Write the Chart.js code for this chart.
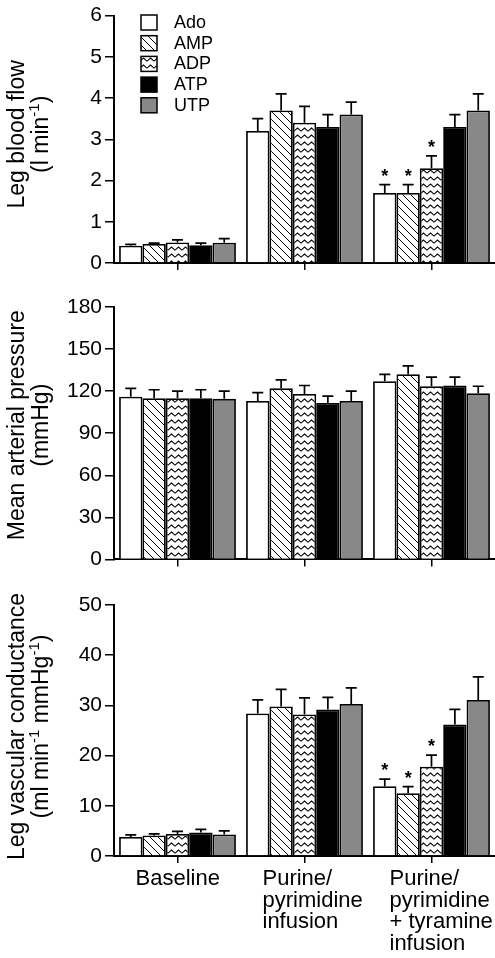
<!DOCTYPE html>
<html>
<head>
<meta charset="utf-8">
<script src="https://cdn.jsdelivr.net/npm/chart.js@4.4.1/dist/chart.umd.min.js"></script>
<style>
  html, body { margin: 0; padding: 0; background: #fff; }
  #wrap { position: relative; width: 495px; height: 958px; overflow: hidden; }
  .panel { position: absolute; left: 0; width: 495px; }
  canvas { display: block; }
</style>
</head>
<body>
<div id="wrap">
  <div class="panel" style="top:0"><canvas id="flowChart" width="495" height="280"></canvas></div>
  <div class="panel" style="top:285px"><canvas id="mapChart" width="495" height="290"></canvas></div>
  <div class="panel" style="top:575px"><canvas id="lvcChart" width="495" height="383"></canvas></div>
</div>
<script>
// --- data ---
const groups = ['Baseline', ['Purine/', 'pyrimidine', 'infusion'], ['Purine/', 'pyrimidine', '+ tyramine', 'infusion']];
const drugs = ['Ado', 'AMP', 'ADP', 'ATP', 'UTP'];

// leg blood flow (l/min), one row per drug, SEM below
const flowMean = [
    [0.42, 3.2, 1.7],
    [0.46, 3.7, 1.7],
    [0.50, 3.4, 2.3],
    [0.43, 3.3, 3.3],
    [0.49, 3.6, 3.7]
];
const flowSem = [
    [0.03, 0.3, 0.2],
    [0.02, 0.4, 0.2],
    [0.06, 0.4, 0.3],
    [0.05, 0.3, 0.3],
    [0.10, 0.3, 0.4]
];
const flowSig = [
    [0, 0, 1],
    [0, 0, 1],
    [0, 0, 1],
    [0, 0, 0],
    [0, 0, 0]
];

// mean arterial pressure (mmHg)
const mapMean = [
    [116, 113, 127],
    [115, 122, 132],
    [115, 118, 123.5],
    [115, 111.5, 124],
    [114.5, 113, 118.5]
];
const mapSem = [
    [6, 6, 5],
    [6, 6, 6],
    [5, 6, 6.5],
    [6, 5, 6],
    [5.5, 7, 5]
];

// leg vascular conductance (ml/min/mmHg)
const lvcMean = [
    [3.8, 28.4, 13.9],
    [4.1, 29.8, 12.5],
    [4.4, 28.2, 17.8],
    [4.7, 29.2, 26.2],
    [4.3, 30.3, 31.1]
];
const lvcSem = [
    [0.4, 2.7, 1.4],
    [0.3, 3.4, 1.3],
    [0.5, 3.3, 2.3],
    [0.6, 2.4, 3.0],
    [0.7, 3.2, 4.6]
];
const lvcSig = flowSig;

const flowTicks = [0, 6, 1];
const mapTicks = [0, 180, 30];
const lvcTicks = [0, 50, 10];

// --- fills ---
function hatchPattern() {
    const c = document.createElement('canvas');
    c.width = 8; c.height = 8;
    const g = c.getContext('2d');
    g.fillStyle = '#fff';
    g.fillRect(0, 0, 8, 8);
    g.strokeStyle = '#000';
    g.lineWidth = 1;
    g.beginPath();
    g.moveTo(-2, -2); g.lineTo(10, 10);
    g.moveTo(-2, 6); g.lineTo(2, 10);
    g.moveTo(6, -2); g.lineTo(10, 2);
    g.stroke();
    return g.createPattern(c, 'repeat');
}

function zigzagPattern() {
    const c = document.createElement('canvas');
    c.width = 7; c.height = 7;
    const g = c.getContext('2d');
    g.fillStyle = '#fff';
    g.fillRect(0, 0, 7, 7);
    g.strokeStyle = '#000';
    g.lineWidth = 1.1;
    g.beginPath();
    g.moveTo(-1, 6); g.lineTo(3.5, 2); g.lineTo(8, 6);
    g.stroke();
    return g.createPattern(c, 'repeat');
}

const fills = ['#ffffff', hatchPattern(), zigzagPattern(), '#000000', '#888888'];

const FONT = "'Liberation Sans', Arial, sans-serif";
Chart.defaults.font.family = FONT;
Chart.defaults.color = '#000';

// --- plugins ---
function drawRich(ctx, segs, y) {
    let total = 0;
    segs.forEach(s => {
        ctx.font = (s[1] ? '15px ' : '23px ') + FONT;
        total += ctx.measureText(s[0]).width;
    });
    let x = -total / 2;
    segs.forEach(s => {
        ctx.font = (s[1] ? '15px ' : '23px ') + FONT;
        ctx.fillText(s[0], x, s[1] ? y - 9 : y);
        x += ctx.measureText(s[0]).width;
    });
}

const yTitlePlugin = {
    id: 'yTitle',
    afterDraw(chart, args, opts) {
        const ctx = chart.ctx;
        const area = chart.chartArea;
        ctx.save();
        ctx.translate(0, (area.top + area.bottom) / 2 + (opts.dy || 0));
        ctx.rotate(-Math.PI / 2);
        ctx.fillStyle = '#000';
        ctx.textAlign = 'left';
        ctx.textBaseline = 'alphabetic';
        opts.lines.forEach((segs, i) => drawRich(ctx, segs, 23.5 + i * 24.5));
        ctx.restore();
    }
};

// category names under the bottom panel, left-aligned blocks at each tick
const xLabelPlugin = {
    id: 'xLabels',
    afterDraw(chart, args, opts) {
        if (!opts.show) return;
        const ctx = chart.ctx;
        const xs = chart.scales.x;
        ctx.save();
        ctx.fillStyle = '#000';
        ctx.font = '22px ' + FONT;
        ctx.textAlign = 'left';
        ctx.textBaseline = 'middle';
        chart.data.labels.forEach((lab, i) => {
            const lines = Array.isArray(lab) ? lab : [lab];
            const x = xs.getPixelForTick(i) + opts.dx;
            lines.forEach((t, k) => ctx.fillText(t, x, xs.top + opts.dy + k * opts.lineH));
        });
        ctx.restore();
    }
};

const errorBarPlugin = {
    id: 'errorBars',
    afterDatasetsDraw(chart) {
        const ctx = chart.ctx;
        const yScale = chart.scales.y;
        ctx.save();
        ctx.strokeStyle = '#000';
        ctx.lineWidth = 1.7;
        chart.data.datasets.forEach((ds, i) => {
            chart.getDatasetMeta(i).data.forEach((bar, j) => {
                const top = yScale.getPixelForValue(ds.data[j] + ds.sem[j]);
                ctx.beginPath();
                ctx.moveTo(bar.x, bar.y);
                ctx.lineTo(bar.x, top);
                ctx.moveTo(bar.x - 5.5, top);
                ctx.lineTo(bar.x + 5.5, top);
                ctx.stroke();
                if (ds.sig && ds.sig[j]) {
                    ctx.fillStyle = '#000';
                    ctx.font = 'bold 18px ' + FONT;
                    ctx.textAlign = 'center';
                    ctx.textBaseline = 'alphabetic';
                    ctx.fillText('*', bar.x, top - 3);
                }
            });
        });
        ctx.restore();
    }
};

const boxLegendPlugin = {
    id: 'boxLegend',
    afterDraw(chart, args, opts) {
        if (!opts.show) return;
        const ctx = chart.ctx;
        ctx.save();
        chart.data.datasets.forEach((ds, i) => {
            const y = opts.y + i * opts.gap;
            ctx.fillStyle = ds.backgroundColor;
            ctx.fillRect(opts.x, y, 16, 15);
            ctx.strokeStyle = '#000';
            ctx.lineWidth = 1.5;
            ctx.strokeRect(opts.x, y, 16, 15);
            ctx.fillStyle = '#000';
            ctx.font = '18px ' + FONT;
            ctx.textAlign = 'left';
            ctx.textBaseline = 'middle';
            ctx.fillText(ds.label, opts.x + 33, y + 8);
        });
        ctx.restore();
    }
};

// --- charts ---
function makePanel(id, means, sems, sig, yTicks, opts) {
    const datasets = drugs.map((name, i) => ({
        label: name,
        data: means[i],
        sem: sems[i],
        sig: sig ? sig[i] : null,
        backgroundColor: fills[i],
        borderColor: '#000',
        borderWidth: 1.8,
        barPercentage: 1.0,
        categoryPercentage: 0.92
    }));
    return new Chart(document.getElementById(id), {
        type: 'bar',
        data: { labels: groups, datasets: datasets },
        plugins: [yTitlePlugin, errorBarPlugin, boxLegendPlugin, xLabelPlugin],
        options: {
            responsive: false,
            animation: false,
            layout: { autoPadding: false, padding: opts.padding },
            plugins: {
                legend: { display: false },
                tooltip: { enabled: false },
                yTitle: { lines: opts.title, dy: opts.dy },
                boxLegend: opts.legend || { show: false },
                xLabels: opts.xLabels || { show: false }
            },
            scales: {
                x: {
                    grid: { offset: false, drawOnChartArea: false, tickLength: 7, color: '#000', lineWidth: 1.5 },
                    border: { color: '#000', width: 2 },
                    ticks: { display: false }
                },
                y: {
                    min: yTicks[0],
                    max: yTicks[1],
                    ticks: { stepSize: yTicks[2], padding: 3, font: { size: 21 } },
                    grid: { drawOnChartArea: false, tickLength: 9, color: '#000', lineWidth: 1.5 },
                    border: { color: '#000', width: 2 },
                    afterFit: function(scale) { scale.width = 114; }
                }
            }
        }
    });
}

makePanel('flowChart', flowMean, flowSem, flowSig, flowTicks, {
    padding: { top: 12, bottom: 10, left: 0, right: 0 },
    title: [[['Leg blood flow']], [['(l min'], ['-1', true], [')']]],
    dy: -5,
    legend: { show: true, x: 141, y: 15, gap: 20.7 }
});

makePanel('mapChart', mapMean, mapSem, null, mapTicks, {
    padding: { top: 22, bottom: 8, left: 0, right: 0 },
    title: [[['Mean arterial pressure']], [['(mmHg)']]],
    dy: -8
});

makePanel('lvcChart', lvcMean, lvcSem, lvcSig, lvcTicks, {
    padding: { top: 30, bottom: 95, left: 0, right: 0 },
    title: [[['Leg vascular conductance']], [['(ml min'], ['-1', true], [' mmHg'], ['-1', true], [')']]],
    dy: -4,
    xLabels: { show: true, dx: -42, dy: 23, lineH: 21.7 }
});
</script>
</body>
</html>
